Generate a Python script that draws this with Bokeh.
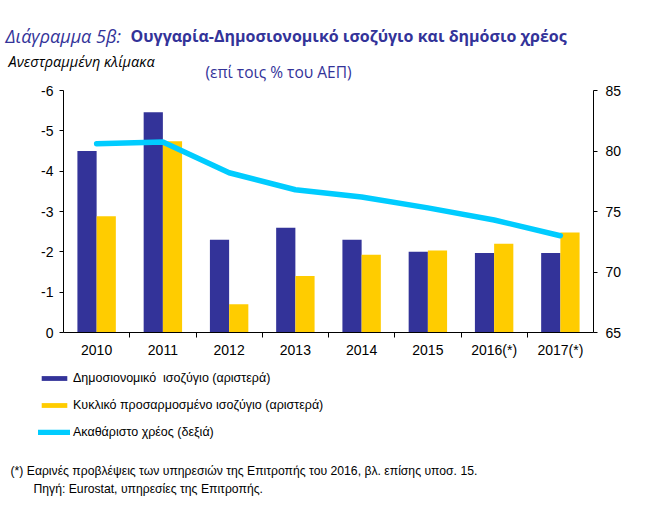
from bokeh.plotting import figure
from bokeh.models import (Range1d, LinearAxis, FixedTicker, Label, Legend,
                          LegendItem, ColumnDataSource)
from bokeh.transform import dodge
from bokeh.embed import file_html
from bokeh.resources import INLINE

# ---- data ----
years = ["2010", "2011", "2012", "2013", "2014", "2015", "2016(*)", "2017(*)"]
balance = [-4.5, -5.46, -2.3, -2.6, -2.3, -2.0, -1.97, -1.97]
structural = [-2.88, -4.74, -0.7, -1.4, -1.93, -2.03, -2.2, -2.48]
debt = [80.6, 80.75, 78.2, 76.8, 76.2, 75.3, 74.3, 73.0]
left_ticks = [-6, -5, -4, -3, -2, -1, 0]
right_ticks = [65, 70, 75, 80, 85]
legend_labels = ["Δημοσιονομικό  ισοζύγιο (αριστερά)",
                 "Κυκλικό προσαρμοσμένο ισοζύγιο (αριστερά)",
                 "Ακαθάριστο χρέος (δεξιά)"]

BLUE = "#333399"
YELLOW = "#FFCC00"
CYAN = "#00CCFF"
NAVY_TXT = "#333399"
TICK_FONT = "Liberation Sans"
LEG_FONT = "Liberation Sans"
TITLE_FONT = "Open Sans"

W = 653
# vertical bands (page y)
TOP1 = 83       # title band 0..TOP1
MAIN1 = 362     # chart band TOP1..MAIN1
BOT1 = 509      # notes band MAIN1..BOT1
FRAME_L, FRAME_R, FRAME_T, FRAME_B = 63, 593, 90, 332

xs = [i + 0.5 for i in range(len(years))]
bounds = [i for i in range(1, len(years))]
src = ColumnDataSource(dict(x=xs, balance=balance, structural=structural, debt=debt))


def band(h):
    f = figure(width=W, height=h, output_backend="svg", toolbar_location=None,
               x_range=Range1d(0, W), y_range=Range1d(0, h),
               x_axis_location=None, y_axis_location=None, min_border=0,
               outline_line_color=None)
    f.xgrid.visible = False
    f.ygrid.visible = False
    return f


def lab(fig, y_base, px, py, text, font=TITLE_FONT, size="14px", style="normal",
        color="black"):
    fig.add_layout(Label(x=px, y=y_base - py, text=text, text_font=font,
                         text_font_size=size, text_font_style=style,
                         text_color=color, text_align="left",
                         text_baseline="middle"))

# ---------------- top band (titles) ----------------
top = band(TOP1)
lab(top, TOP1, 5, 35, "Διάγραμμα 5β:", size="18px", style="italic", color=NAVY_TXT)
lab(top, TOP1, 130, 35, "Ουγγαρία-Δημοσιονομικό ισοζύγιο και δημόσιο χρέος",
    size="16px", style="bold", color=NAVY_TXT)
lab(top, TOP1, 8, 61, "Ανεστραμμένη κλίμακα", size="14.5px", style="italic")
lab(top, TOP1, 205, 71, "(επί τοις % του ΑΕΠ)", size="15.5px", color=NAVY_TXT)

# ---------------- main chart ----------------
p = figure(width=W, height=MAIN1 - TOP1, output_backend="svg", toolbar_location=None,
           x_range=Range1d(0, len(years)), y_range=Range1d(0, -6),
           x_axis_location=None, y_axis_location=None,
           min_border_left=FRAME_L, min_border_right=W - FRAME_R,
           min_border_top=FRAME_T - TOP1, min_border_bottom=MAIN1 - FRAME_B,
           outline_line_color=None)
p.xgrid.visible = False
p.ygrid.visible = False
p.extra_y_ranges = {"debt": Range1d(65, 85)}


def style_axis(ax):
    ax.axis_line_color = "black"
    ax.axis_line_width = 1
    ax.major_tick_line_color = "black"
    ax.minor_tick_line_color = "black"
    ax.major_label_text_font = TICK_FONT
    ax.major_label_text_font_size = "14px"
    ax.major_label_text_color = "black"
    ax.major_tick_in = 0
    ax.minor_tick_in = 0


left = LinearAxis(ticker=FixedTicker(ticks=left_ticks, minor_ticks=[]),
                  major_label_overrides={t: str(t) for t in left_ticks})
style_axis(left)
left.major_tick_out = 4
left.minor_tick_out = 0
left.major_label_standoff = 6
p.add_layout(left, "left")

right = LinearAxis(y_range_name="debt", ticker=FixedTicker(ticks=right_ticks, minor_ticks=[]))
style_axis(right)
right.major_tick_out = 4
right.minor_tick_out = 0
right.major_label_standoff = 8
p.add_layout(right, "right")

bottom = LinearAxis(ticker=FixedTicker(ticks=xs, minor_ticks=bounds),
                    major_label_overrides={x: y for x, y in zip(xs, years)})
style_axis(bottom)
bottom.major_tick_out = 0
bottom.minor_tick_out = 5
bottom.major_label_standoff = 4
p.add_layout(bottom, "below")

p.vbar(x=dodge("x", -0.145), top="balance", bottom=0, width=0.29,
       fill_color=BLUE, line_color=None, source=src)
p.vbar(x=dodge("x", 0.145), top="structural", bottom=0, width=0.29,
       fill_color=YELLOW, line_color=None, source=src)
p.line(x="x", y="debt", y_range_name="debt", line_width=5.5, line_color=CYAN,
       line_cap="round", line_join="round", source=src)

# ---------------- bottom band (legend + notes) ----------------
bot = band(BOT1 - MAIN1)
# legend keys: same series, hidden in this band (only their legend samples show)
k1 = bot.vbar(x="x", top="balance", width=0.29, fill_color=BLUE, line_color=None,
              source=src, visible=False)
k2 = bot.vbar(x="x", top="structural", width=0.29, fill_color=YELLOW, line_color=None,
              source=src, visible=False)
k3 = bot.line(x="x", y="debt", line_width=5.5, line_color=CYAN, line_cap="round",
              source=src, visible=False)

legend = Legend(items=[LegendItem(label=t, renderers=[r])
                       for t, r in zip(legend_labels, [k1, k2, k3])],
                location=(38, BOT1 - 442), orientation="vertical",
                glyph_width=32, glyph_height=6, label_standoff=3, label_height=20,
                spacing=7, padding=0, margin=0, border_line_alpha=0,
                background_fill_alpha=0, label_text_font=LEG_FONT,
                label_text_font_size="12.5px", label_text_color="black")
bot.add_layout(legend)

lab(bot, BOT1, 10, 470,
    "(*) Εαρινές προβλέψεις των υπηρεσιών της Επιτροπής του 2016, βλ. επίσης υποσ. 15.",
    font=LEG_FONT, size="12.2px")
lab(bot, BOT1, 33, 488, "Πηγή:  Eurostat, υπηρεσίες της Επιτροπής.",
    font=LEG_FONT, size="12.2px")

open("out.html", "w").write(file_html([top, p, bot], INLINE))
